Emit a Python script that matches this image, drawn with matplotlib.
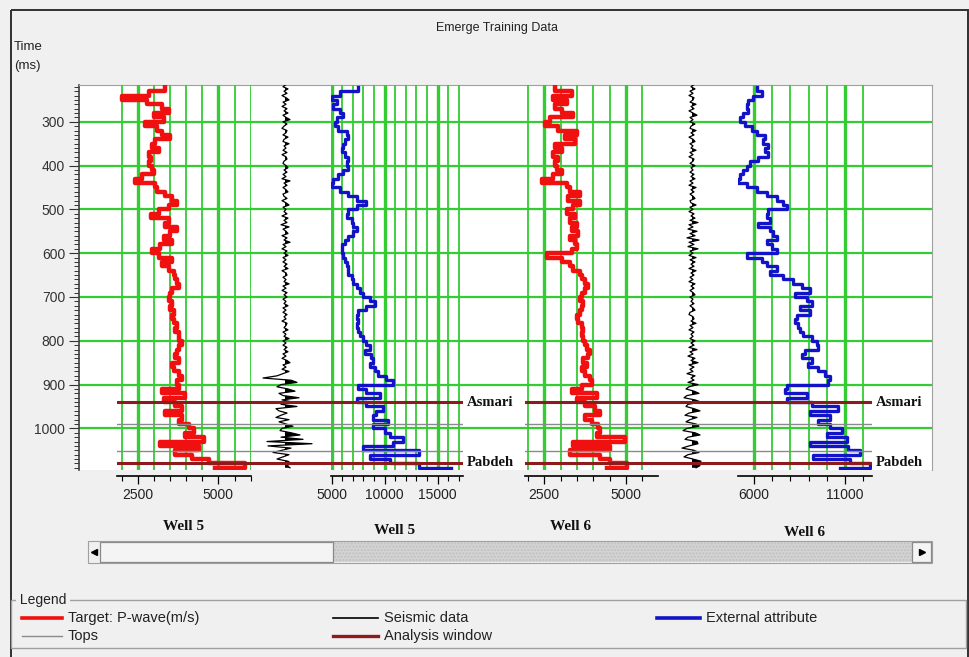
import numpy as np
import matplotlib.pyplot as plt
from matplotlib.patches import Rectangle
from matplotlib.ticker import MultipleLocator, FixedLocator

plt.rcParams['font.family'] = ['Liberation Sans', 'DejaVu Sans']

W, H = 970, 657
GREEN = '#33cc33'
RED = '#f01010'
BLUE = '#1212c8'
BROWN = '#8e1b1b'
GRAY = '#8a8a8a'

# sampling times (ms)
t_log = np.arange(220, 1091, 10)
t_seis = np.arange(215, 1091, 5)

# Well 5 - target P-wave (m/s)
pwave_w5 = [3360, 2845, 2020, 2790, 3255, 3460, 3000, 3310, 2740, 3100,
            3255, 3510, 3050, 2950, 3150, 2845, 2900, 2845, 2950, 3000,
            2640, 2430, 3050, 3100, 3360, 3565, 3720, 3460, 3150, 2900,
            3460, 3360, 3720, 3510, 3310, 3565, 3205, 2950, 3150, 3565,
            3255, 3460, 3620, 3670, 3720, 3770, 3565, 3510, 3460, 3565,
            3510, 3620, 3565, 3620, 3720, 3670, 3770, 3770, 3875, 3770,
            3720, 3670, 3770, 3565, 3620, 3770, 3875, 3720, 3770, 3255,
            3980, 3310, 3670, 3875, 3360, 3875, 3770, 4080, 4235, 3980,
            4545, 3205, 4390, 3670, 4185, 4700, 5830, 4900]

# Well 5 - external attribute
ext_w5 = [7500, 5780, 5000, 5470, 5160, 5780, 6090, 5470, 5310, 5625,
          6410, 6560, 6250, 6090, 5940, 6250, 6560, 6410, 6560, 6090,
          5625, 5160, 5000, 5780, 6560, 7340, 8280, 7340, 6560, 6410,
          6875, 7030, 7340, 7030, 6560, 6250, 5940, 5940, 6090, 6250,
          6410, 6560, 6560, 6875, 7030, 7340, 7660, 7970, 8590, 9060,
          8280, 7500, 7340, 7500, 7340, 7500, 7660, 7970, 8280, 8590,
          8125, 8750, 8910, 8590, 9060, 9375, 10160, 10780, 7500, 8280,
          9530, 7340, 8280, 9840, 9220, 8910, 10310, 8910, 10000, 10470,
          11720, 10780, 7970, 13280, 8590, 10470, 13280, 16250]

# Well 6 - target P-wave (m/s)
pwave_w6 = [2826, 3336, 2775, 3183, 2826, 3030, 3387, 2673, 2520, 2928,
            3489, 3132, 3438, 2826, 3030, 2775, 2928, 2826, 2877, 3030,
            2775, 2420, 3183, 3285, 3591, 3234, 3591, 3387, 3183, 3438,
            3285, 3489, 3336, 3540, 3285, 3438, 3489, 3336, 2571, 3030,
            3285, 3387, 3591, 3642, 3744, 3846, 3744, 3642, 3591, 3693,
            3642, 3591, 3489, 3540, 3642, 3693, 3642, 3693, 3744, 3795,
            3897, 3846, 3693, 3795, 3642, 3744, 3897, 3948, 3642, 3336,
            4101, 3489, 3744, 4050, 4203, 3744, 3948, 4152, 4203, 4101,
            4968, 3387, 4509, 3285, 4203, 4509, 5019, 4407]

# Well 6 - external attribute
ext_w6 = [6146, 6421, 5963, 5689, 5597, 5689, 5414, 5231, 5506, 5872,
          6146, 6604, 6512, 6787, 6604, 6787, 6238, 5780, 5597, 5414,
          5231, 5140, 5597, 6146, 6695, 7244, 7610, 7793, 6787, 6695,
          6878, 6238, 6878, 7061, 7244, 6695, 6970, 7244, 5597, 6421,
          6695, 7244, 6878, 7610, 8159, 8617, 9074, 8251, 8891, 9166,
          8525, 9074, 8342, 8251, 8434, 8525, 8708, 9166, 9440, 9532,
          8800, 8617, 9166, 8983, 9532, 9898, 10172, 10081, 7793, 7702,
          8891, 7793, 9166, 10630, 9074, 10172, 9532, 10172, 10813, 9989,
          11087, 9074, 11179, 11819, 9257, 11270, 12368, 10721]

# seismic traces (amplitude, arbitrary units)
seis_w5 = [1, -2, 3, -1, 2, -3, 1, 4, -2, 1, -3, 2, -1, 3, -2, 1, 5, -2, 2, -1,
           -3, 2, 1, -2, 3, -1, -2, 4, -1, 1, -2, 2, -3, 1, 2, -1, -2, 1, 3, -1,
           2, -2, 1, -3, 5, -1, 2, -2, 1, 3, -2, -1, 2, -3, 1, 4, -2, 1, -1, 2,
           -3, 3, -1, 2, -4, 4, -2, 1, 3, -3, 2, -1, 5, -2, 1, -3, 2, -1, 3, -2,
           1, -2, 2, -1, 3, -3, 1, 2, -2, 1, -1, 4, -2, 1, -3, 2, -1, 2, -2, 1,
           -1, 3, -2, 1, -2, 2, -1, 1, -3, 2, 1, -1, 3, -2, 1, -1, 4, -2, 1, -2,
           2, -1, 3, -2, 1, -3, 2, 5, -2, 1, -3, 4, -2, -8, -22, 6, 12, -4, -8, 3,
           10, -6, -2, 14, -3, 8, -4, 12, -9, -6, 2, -4, -9, 4, -6, 1, 8, -3, -5, 6,
           15, -4, 18, -18, 27, -17, 6, -3, -12, 4, -2, -8, 3, 6, 2, 5]
seis_w6 = [2, -1, 3, -2, 1, -3, 2, 1, -2, 4, -1, 2, -3, 1, 5, -2, 1, -2, 3, -1,
           -2, 4, -1, 2, -3, 1, 3, -2, 1, -1, 4, -2, 1, -3, 2, 1, -2, 3, -1, 1,
           -2, 2, -1, 3, -2, 1, -3, 4, -1, 2, -2, 1, 3, -2, -1, 4, -2, 1, -3, 2,
           -1, 3, -2, 6, -3, 1, -4, 5, -2, 3, -5, 7, -3, 2, -4, 6, -2, 1, -3, 4,
           -2, 3, -1, 2, -3, 4, -1, 2, -2, 1, -3, 3, -1, 2, -2, 1, 3, -2, 1, -1,
           2, -2, 1, 3, -2, -3, 1, 2, -1, 4, -2, 1, -3, 2, -1, 1, -2, 3, -1, 2,
           -3, 5, -2, 1, -4, 3, -1, 6, -3, 2, -2, 1, -5, 3, -1, 2, -4, 6, -3, -6,
           2, 7, -5, -8, 3, 9, -4, -6, 2, 8, -3, -7, 5, -2, -6, 4, 7, -5, -9, 3,
           8, -4, -7, 5, 6, -3, -10, 2, 7, -4, -8, 1, 9, 3, 8, 4]

# horizons (ms)
asmari = 940
pabdeh = 1078
tops = [990, 1052]


def box(x0, y0, x1, y1):
    # pixel box -> figure fraction
    return [x0 / W, 1 - y1 / H, (x1 - x0) / W, (y1 - y0) / H]


fig = plt.figure(figsize=(9.7, 6.57), dpi=100, facecolor='#f0f0f0')

# window chrome
ui = fig.add_axes([0, 0, 1, 1])
ui.set_xlim(0, W)
ui.set_ylim(H, 0)
ui.axis('off')
ui.add_patch(Rectangle((11, 10), 957, 660, fill=False, ec='#303030', lw=1.4))

fig.text(497 / W, 1 - 28 / H, 'Emerge Training Data', ha='center', va='center', fontsize=9, color='#222')
fig.text(14 / W, 1 - 47 / H, 'Time', ha='left', va='center', fontsize=9.5, color='#222')
fig.text(14 / W, 1 - 66 / H, '(ms)', ha='left', va='center', fontsize=9.5, color='#222')

# main time axis with horizontal grid
main = fig.add_axes(box(79, 85, 932, 470))
main.set_facecolor('white')
main.set_xlim(0, 1)
main.set_xticks([])
main.yaxis.set_major_locator(MultipleLocator(100))
main.yaxis.set_minor_locator(MultipleLocator(10))
main.grid(axis='y', which='major', color=GREEN, lw=1.6)
main.tick_params(axis='y', which='major', length=7, width=0.8, color='#333',
                 labelsize=10, labelcolor='#333', pad=3)
main.tick_params(axis='y', which='minor', length=3.5, width=0.7, color='#333')
main.spines['bottom'].set_visible(False)
main.spines['top'].set_color('#a0a0a0')
main.spines['right'].set_color('#a0a0a0')
main.spines['left'].set_color('#404040')
main.spines['left'].set_linewidth(1.2)


def log_track(x0, x1, lim, major, minor):
    ax = fig.add_axes(box(x0, 85, x1, 470), sharey=main)
    ax.patch.set_visible(False)
    ax.set_xlim(*lim)
    ax.xaxis.set_major_locator(FixedLocator(major))
    ax.xaxis.set_minor_locator(MultipleLocator(minor))
    ax.set_axisbelow(True)
    ax.grid(axis='x', which='major', color=GREEN, lw=2.4)
    ax.grid(axis='x', which='minor', color=GREEN, lw=1.3)
    for s in ['top', 'right', 'left']:
        ax.spines[s].set_visible(False)
    ax.spines['bottom'].set_position(('outward', 4))
    ax.spines['bottom'].set_linewidth(1.2)
    ax.tick_params(axis='y', which='both', left=False, labelleft=False)
    ax.tick_params(axis='x', which='major', length=6, width=0.9, labelsize=10,
                   labelcolor='#222', pad=3)
    ax.tick_params(axis='x', which='minor', length=3.5, width=0.8)
    return ax


def seis_track(x0, x1):
    ax = fig.add_axes(box(x0, 85, x1, 470), sharey=main)
    ax.patch.set_visible(False)
    ax.set_xlim(-34, 46)
    for s in ax.spines.values():
        s.set_visible(False)
    ax.tick_params(axis='both', which='both', left=False, bottom=False,
                   labelleft=False, labelbottom=False)
    return ax


tr1 = log_track(117, 251, (1860, 6010), [2500, 5000], 500)
tr2 = seis_track(251, 331)
tr3 = log_track(331, 463, (4930, 17400), [5000, 10000, 15000], 1000)
tr4 = log_track(525, 658, (1910, 5980), [2500, 5000], 500)
tr5 = seis_track(658, 738)
tr6 = log_track(738, 872, (5120, 12480), [6000, 11000], 1000)
main.set_ylim(1095, 216)

# blocky well-log curves
tr1.plot(pwave_w5, t_log, color=RED, lw=3.2, drawstyle='steps-pre', zorder=3)
tr4.plot(pwave_w6, t_log, color=RED, lw=3.2, drawstyle='steps-pre', zorder=3)
tr3.plot(ext_w5, t_log, color=BLUE, lw=2.4, drawstyle='steps-pre', zorder=3)
tr6.plot(ext_w6, t_log, color=BLUE, lw=2.4, drawstyle='steps-pre', zorder=3)

for ax, s in ((tr2, seis_w5), (tr5, seis_w6)):
    s = np.array(s)
    ax.plot(s, t_seis, color='black', lw=0.9, zorder=3)
    ax.fill_betweenx(t_seis, 0, s, where=s > 0, interpolate=True, color='black', lw=0, zorder=3)

for group in ((tr1, tr2, tr3), (tr4, tr5, tr6)):
    for ax in group:
        for tp in tops:
            ax.axhline(tp, color=GRAY, lw=1.0, zorder=4)
        ax.axhline(asmari, color=BROWN, lw=2.2, zorder=5)
        ax.axhline(pabdeh, color=BROWN, lw=2.2, zorder=5)
    last = group[-1]
    tf = last.get_yaxis_transform()
    for name, tm in (('Asmari', asmari), ('Pabdeh', pabdeh)):
        last.text(1.03, tm, name, transform=tf, ha='left', va='center', fontsize=10.5,
                  fontweight='bold', family='Liberation Serif', color='#111')

# well names under the tracks
for name, xp, yp in (('Well 5', 184, 527), ('Well 5', 395, 531),
                     ('Well 6', 571, 527), ('Well 6', 805, 532)):
    fig.text(xp / W, 1 - yp / H, name, ha='center', va='center', fontsize=11,
             fontweight='bold', family='Liberation Serif', color='#111')

# scroll bar
ui.add_patch(Rectangle((88, 541), 844, 22, fc='#f0f0f0', ec='#a0a0a0', lw=0.8))
ui.add_patch(Rectangle((333, 542), 579, 20, fc='#d3d3d3', ec='#c0c0c0', hatch='.....', lw=0))
ui.add_patch(Rectangle((100, 542), 233, 20, fc='#f4f4f4', ec='#8a8a8a', lw=0.9))
ui.add_patch(Rectangle((912, 542), 19, 20, fc='#f4f4f4', ec='#8a8a8a', lw=0.9))
ui.plot([94], [552], marker='<', ms=4, color='black')
ui.plot([922], [552], marker='>', ms=4, color='black')

# legend group box
ui.add_patch(Rectangle((11, 600), 955, 48, fill=False, ec='#a0a0a0', lw=1))
ui.text(16, 600, ' Legend ', ha='left', va='center', fontsize=10, color='#222',
        bbox=dict(fc='#f0f0f0', ec='none', pad=0))
legend_items = [((22, 62), 618, RED, 2.6, 'Target: P-wave(m/s)'),
                ((22, 62), 636, GRAY, 1.0, 'Tops'),
                ((333, 378), 618, 'black', 1.2, 'Seismic data'),
                ((333, 378), 636, BROWN, 2.4, 'Analysis window'),
                ((657, 700), 618, BLUE, 2.6, 'External attribute')]
for (xa, xb), yy, col, lw, lab in legend_items:
    ui.plot([xa, xb], [yy, yy], color=col, lw=lw)
    ui.text(xb + 6, yy, lab, ha='left', va='center', fontsize=10.5, color='#222')

fig.savefig('out.png', dpi=100, facecolor=fig.get_facecolor())
